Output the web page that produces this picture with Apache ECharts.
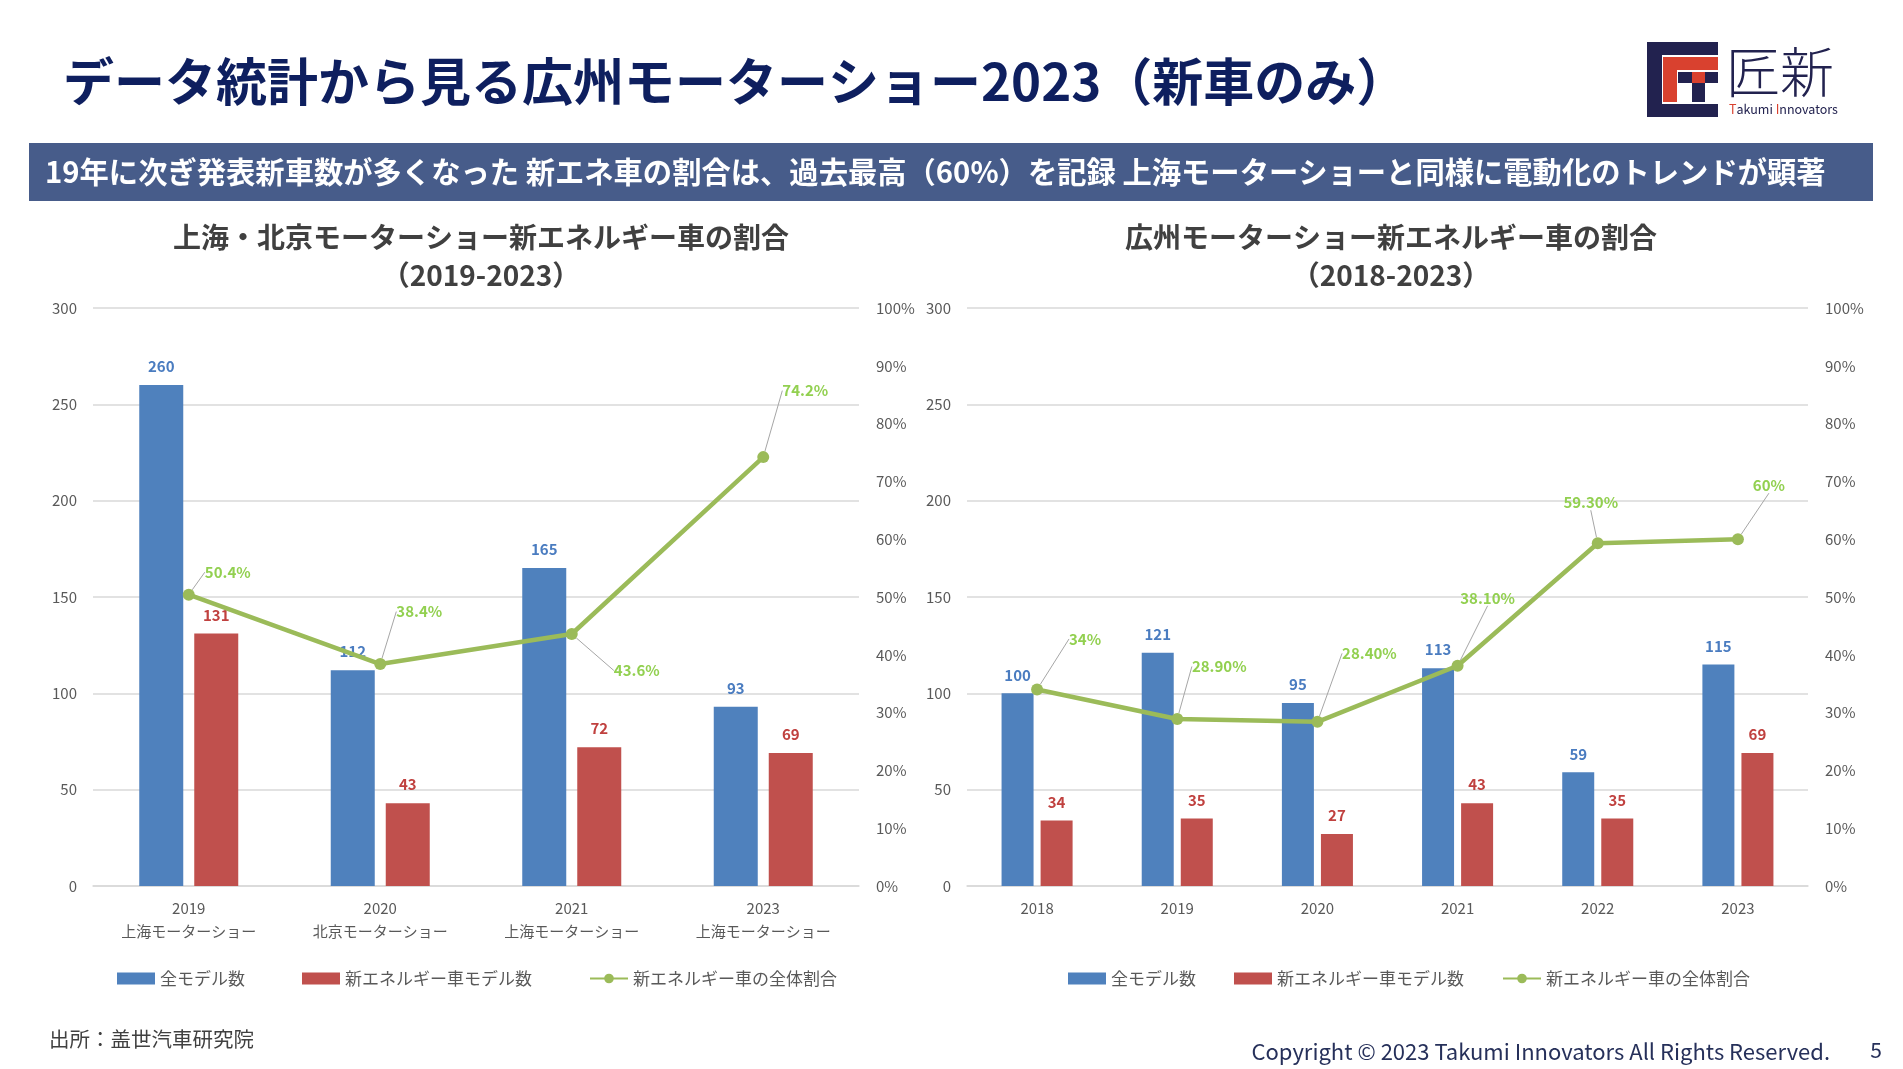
<!DOCTYPE html>
<html><head><meta charset="utf-8">
<script src="https://cdn.jsdelivr.net/npm/echarts@6/dist/echarts.min.js"></script>
<style>html,body{margin:0;padding:0;background:#fff}#c{width:1903px;height:1069px}</style>
</head><body><div id="c"></div>
<script>
// ---- data ----
const leftYears = ['2019', '2020', '2021', '2023'];
const leftShows = ['上海モーターショー', '北京モーターショー', '上海モーターショー', '上海モーターショー'];
const leftAll = [260, 112, 165, 93];
const leftNev = [131, 43, 72, 69];
const leftPct = [50.4, 38.4, 43.6, 74.2];
const leftPctLabels = ['50.4%', '38.4%', '43.6%', '74.2%'];

const rightYears = ['2018', '2019', '2020', '2021', '2022', '2023'];
const rightAll = [100, 121, 95, 113, 59, 115];
const rightNev = [34, 35, 27, 43, 35, 69];
const rightPct = [34, 28.9, 28.4, 38.1, 59.3, 60];
const rightPctLabels = ['34%', '28.90%', '28.40%', '38.10%', '59.30%', '60%'];

const seriesNames = ['全モデル数', '新エネルギー車モデル数', '新エネルギー車の全体割合'];
const countAxis = { min: 0, max: 300, interval: 50 };
const pctAxis = { min: 0, max: 100, interval: 10 };

// ---- layout (label callout offsets, px) ----
const leftLabelOffsets = [[39, -4], [39, -34], [65, 55], [42, -48]];
const rightLabelOffsets = [[48, -32], [42, -34], [52, -50], [30, -49], [-7, -22], [31, -35]];

const FONT = '"Noto Sans CJK JP", "Noto Sans", sans-serif';
const BLUE = '#4f81bd', RED = '#c0504d', GREEN = '#9bbb59';
const BLUE_T = '#4a7cc0', RED_T = '#c0413f', GREEN_T = '#92d050';
const AX = '#595959', GRIDC = '#d9d9d9';

const chart = echarts.init(document.getElementById('c'), null, { renderer: 'canvas' });

function yCount(gi) {
  return {
    type: 'value', gridIndex: gi, min: countAxis.min, max: countAxis.max, interval: countAxis.interval,
    axisLine: { show: false }, axisTick: { show: false },
    axisLabel: { color: AX, fontSize: 15, fontFamily: FONT, margin: 16 },
    splitLine: { show: true, lineStyle: { color: GRIDC, width: 1.5 } }
  };
}
function yPct(gi) {
  return {
    type: 'value', gridIndex: gi, min: pctAxis.min, max: pctAxis.max, interval: pctAxis.interval, position: 'right',
    axisLine: { show: false }, axisTick: { show: false },
    axisLabel: { color: AX, fontSize: 15, fontFamily: FONT, margin: 17, formatter: '{value}%' },
    splitLine: { show: false }
  };
}
function xCat(gi, data) {
  return {
    type: 'category', gridIndex: gi, data: data,
    axisTick: { show: false },
    axisLine: { show: true, lineStyle: { color: GRIDC, width: 1.5 } },
    axisLabel: { color: AX, fontSize: 15, fontFamily: FONT, margin: 11, lineHeight: 23, interval: 0 }
  };
}
function barSeries(name, gi, data, color, tcolor, width, gap) {
  return {
    name: name, type: 'bar', xAxisIndex: gi, yAxisIndex: gi * 2, data: data,
    barWidth: width, barGap: gap,
    itemStyle: { color: color },
    label: { show: true, position: 'top', distance: 11, color: tcolor, fontWeight: 'bold', fontSize: 15, fontFamily: FONT }
  };
}
function lineSeries(gi, data, labels, offsets) {
  return {
    name: seriesNames[2], type: 'line', xAxisIndex: gi, yAxisIndex: gi * 2 + 1, data: data, z: 5,
    symbol: 'circle', symbolSize: 12, color: GREEN,
    lineStyle: { color: GREEN, width: 4.5 }, itemStyle: { color: GREEN },
    label: { show: true, position: 'top', distance: 5, color: GREEN_T, fontWeight: 'bold', fontSize: 15, fontFamily: FONT,
      formatter: p => labels[p.dataIndex] },
    labelLine: { show: true, lineStyle: { color: '#a6a6a6', width: 1 } },
    labelLayout: p => ({ dx: offsets[p.dataIndex][0], dy: offsets[p.dataIndex][1] })
  };
}

const legendBase = {
  orient: 'horizontal', itemWidth: 38, itemHeight: 12, top: 965,
  textStyle: { color: AX, fontSize: 17, fontFamily: FONT },
  data: [{ name: seriesNames[0], icon: 'rect' }, { name: seriesNames[1], icon: 'rect' }, { name: seriesNames[2] }],
  selectedMode: false
};

const navy = '#22224f';
const option = {
  backgroundColor: '#ffffff',
  animation: false,
  textStyle: { fontFamily: FONT },
  grid: [
    { left: 93, right: 1044, top: 308, bottom: 183, containLabel: false },
    { left: 967, right: 95, top: 308, bottom: 183, containLabel: false }
  ],
  xAxis: [
    xCat(0, leftYears.map((y, i) => y + '\n' + leftShows[i])),
    xCat(1, rightYears)
  ],
  yAxis: [yCount(0), yPct(0), yCount(1), yPct(1)],
  legend: [
    Object.assign({}, legendBase, { left: 112, itemGap: 57 }),
    Object.assign({}, legendBase, { left: 1063, itemGap: 38 })
  ],
  series: [
    barSeries(seriesNames[0], 0, leftAll, BLUE, BLUE_T, 44, '25%'),
    barSeries(seriesNames[1], 0, leftNev, RED, RED_T, 44, '25%'),
    lineSeries(0, leftPct, leftPctLabels, leftLabelOffsets),
    barSeries(seriesNames[0], 1, rightAll, BLUE, BLUE_T, 32, '22%'),
    barSeries(seriesNames[1], 1, rightNev, RED, RED_T, 32, '22%'),
    lineSeries(1, rightPct, rightPctLabels, rightLabelOffsets)
  ],
  graphic: [
    { type: 'text', x: 63, y: 82, style: { text: 'データ統計から見る広州モーターショー2023（新車のみ）', fill: '#0e1f5f', font: 'bold 51px ' + FONT, textVerticalAlign: 'middle' } },
    { type: 'rect', shape: { x: 29, y: 143, width: 1844, height: 58 }, style: { fill: '#475c8a' } },
    { type: 'text', x: 45, y: 172, style: { text: '19年に次ぎ発表新車数が多くなった 新エネ車の割合は、過去最高（60%）を記録 上海モーターショーと同様に電動化のトレンドが顕著', fill: '#ffffff', font: 'bold 29.3px ' + FONT, textVerticalAlign: 'middle' } },
    { type: 'text', x: 481, y: 256, style: { text: '上海・北京モーターショー新エネルギー車の割合\n（2019-2023）', fill: '#404040', font: 'bold 28px ' + FONT, textAlign: 'center', textVerticalAlign: 'middle', lineHeight: 38 } },
    { type: 'text', x: 1391, y: 256, style: { text: '広州モーターショー新エネルギー車の割合\n（2018-2023）', fill: '#404040', font: 'bold 28px ' + FONT, textAlign: 'center', textVerticalAlign: 'middle', lineHeight: 38 } },
    { type: 'text', x: 49, y: 1039, style: { text: '出所：盖世汽車研究院', fill: '#404040', font: '20.5px ' + FONT, textVerticalAlign: 'middle' } },
    { type: 'text', x: 1830, y: 1052, style: { text: 'Copyright © 2023 Takumi Innovators All Rights Reserved.', fill: '#26305a', font: '22px ' + FONT, textAlign: 'right', textVerticalAlign: 'middle' } },
    { type: 'text', x: 1876, y: 1050, style: { text: '5', fill: '#26305a', font: '21px ' + FONT, textAlign: 'center', textVerticalAlign: 'middle' } },
    // logo
    { type: 'rect', shape: { x: 1647, y: 42, width: 71, height: 13 }, style: { fill: navy } },
    { type: 'rect', shape: { x: 1647, y: 42, width: 15, height: 75 }, style: { fill: navy } },
    { type: 'rect', shape: { x: 1647, y: 104, width: 71, height: 13 }, style: { fill: navy } },
    { type: 'rect', shape: { x: 1663, y: 57, width: 14, height: 45 }, style: { fill: '#d9412f' } },
    { type: 'rect', shape: { x: 1663, y: 57, width: 55, height: 13 }, style: { fill: '#d9412f' } },
    { type: 'rect', shape: { x: 1678, y: 72, width: 40, height: 11 }, style: { fill: navy } },
    { type: 'rect', shape: { x: 1692, y: 72, width: 13, height: 30 }, style: { fill: navy } },
    { type: 'rect', shape: { x: 1692, y: 72, width: 13, height: 11 }, style: { fill: '#d9412f' } },
    { type: 'text', x: 1726, y: 72, style: { text: '匠新', fill: navy, font: '300 54px ' + FONT, textVerticalAlign: 'middle' } },
    { type: 'text', x: 1729, y: 109, style: { rich: { r: { fill: '#d9412f', font: '12.5px ' + FONT }, n: { fill: navy, font: '12.5px ' + FONT } }, text: '{r|T}{n|akumi }{r|I}{n|nnovators}', textVerticalAlign: 'middle' } }
  ]
};
chart.setOption(option);
</script>
</body></html>
